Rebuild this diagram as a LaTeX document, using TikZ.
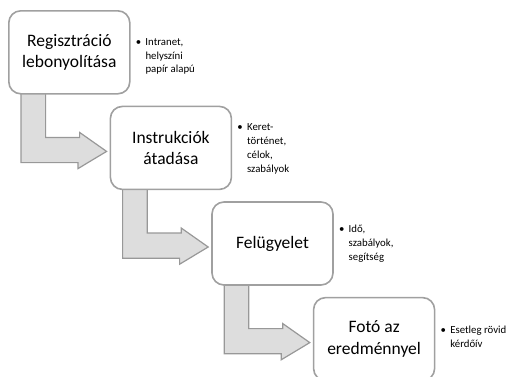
\documentclass[tikz,border=0pt]{standalone}
\usepackage{fontspec}
\setmainfont{Carlito}
\usetikzlibrary{positioning,calc,backgrounds}

\definecolor{keret}{RGB}{160,160,160}
\definecolor{nyilszin}{RGB}{221,221,221}

\tikzset{
    lepes/.style={draw=keret, line width=1.6pt, fill=white, rounded corners=12pt,
        minimum width=121pt, minimum height=83pt, align=center,
        font=\fontsize{17.5}{21.5}\selectfont, inner sep=0pt},
    megj/.style={anchor=west, font=\fontsize{10.8}{13.8}\selectfont, inner sep=0pt},
    nyil/.style={draw=keret!95!black, line width=1.2pt, fill=nyilszin, line join=miter}
}

% bullet list next to a box
\newcommand\pontok[1]{\textbullet\hspace{0.4em}\begin{tabular}[t]{@{}l@{}}#1\end{tabular}}

% bent block arrow from one box to the next
\newcommand\nyil[2]{%
    \path[nyil] ($(#1.south west)+(13,2)$) -- ++(0,-70) -- ++(57,0) -- ++(0,-6)
        -- ($(#2.west)+(-3,-3.5)$) -- ++(-27,19) -- ++(0,-5) -- ++(-34,0)
        -- ++(0,44) -- cycle;}

\begin{document}
\begin{tikzpicture}[x=1pt, y=1pt]
        \useasboundingbox (0,0) rectangle (508,-376);

        \node[lepes, anchor=north west] (r) at (8,-10) {Regisztráció\\lebonyolítása};
        \node[lepes, below right=11pt and -21pt of r.south east, anchor=north west] (i) {Instrukciók\\átadása};
        \node[lepes, below right=11pt and -21pt of i.south east, anchor=north west] (f) {Felügyelet};
        \node[lepes, below right=11pt and -21pt of f.south east, anchor=north west] (e) {Fotó az\\eredménnyel};

        % arrows go under the boxes
        \begin{scope}[on background layer]
            \nyil{r}{i}
            \nyil{i}{f}
            \nyil{f}{e}
        \end{scope}

        \node[megj, right=5pt of r.east, yshift=-4pt] (rm) {\pontok{Intranet,\\helyszíni\\papír alapú}};
        \node[megj, right=5pt of i.east, yshift=-1pt] (im) {\pontok{Keret-\\történet,\\célok,\\szabályok}};
        \node[megj, right=5pt of f.east] (fm) {\pontok{Idő,\\szabályok,\\segítség}};
        \node[megj, right=5pt of e.east, yshift=1pt] (em) {\pontok{Esetleg rövid\\kérdőív}};
    \end{tikzpicture}
\end{document}
